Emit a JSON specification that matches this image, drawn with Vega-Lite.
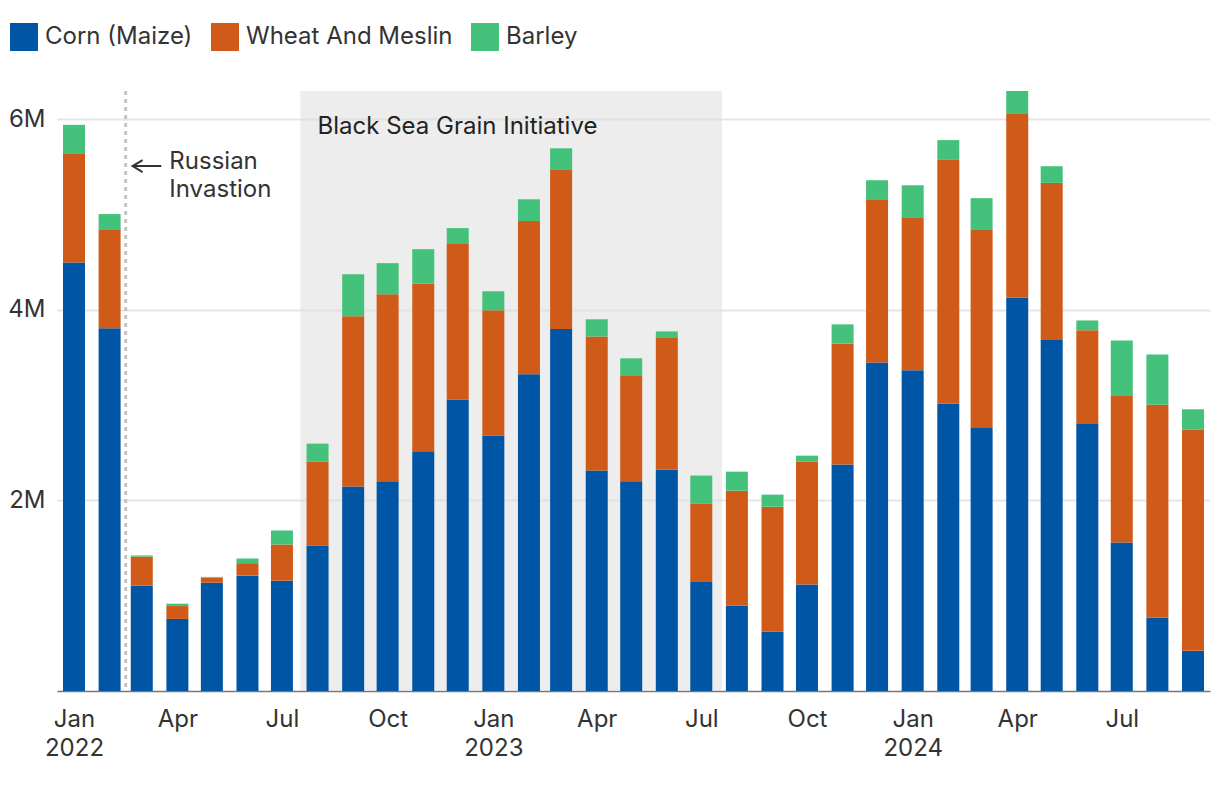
{
  "$schema": "https://vega.github.io/schema/vega-lite/v6.json",
  "width": 1153,
  "height": 600,
  "autosize": {"type": "none"},
  "padding": {"left": 57, "top": 91, "right": 10, "bottom": 95},
  "background": "white",
  "config": {
    "font": "Inter",
    "view": {"stroke": null},
    "scale": {"continuousPadding": 0},
    "axis": {"labelFont": "Inter", "labelFontSize": 24, "labelColor": "#333333"},
    "legend": {"labelFont": "Inter", "labelFontSize": 24, "labelColor": "#333333"}
  },
  "layer": [
    {
      "data": {"values": [{"start": "2022-07-17", "end": "2023-07-19"}]},
      "mark": {"type": "rect", "color": "#dcdcdc", "opacity": 0.5},
      "encoding": {
        "x": {"field": "start", "type": "temporal", "title": null, "scale": {"type": "utc", "padding": 0, "domain": [{"year": 2021, "month": 12, "date": 17, "hours": 5, "utc": true}, {"year": 2024, "month": 9, "date": 15, "hours": 19, "utc": true}]}},
        "x2": {"field": "end"}
      }
    },
    {
      "data": {"values": [{"date": "2022-02-15"}]},
      "mark": {"type": "rule", "color": "#c4c4c4", "strokeWidth": 3, "strokeDash": [4, 4]},
      "encoding": {
        "x": {"field": "date", "type": "temporal", "title": null}
      }
    },
    {
      "data": {"values": [
        {"date": "2022-01-01", "crop": "Corn (Maize)", "value": 4496000},
        {"date": "2022-01-01", "crop": "Wheat And Meslin", "value": 1144000},
        {"date": "2022-01-01", "crop": "Barley", "value": 299000},
        {"date": "2022-02-01", "crop": "Corn (Maize)", "value": 3805000},
        {"date": "2022-02-01", "crop": "Wheat And Meslin", "value": 1038000},
        {"date": "2022-02-01", "crop": "Barley", "value": 160000},
        {"date": "2022-03-01", "crop": "Corn (Maize)", "value": 1104000},
        {"date": "2022-03-01", "crop": "Wheat And Meslin", "value": 306000},
        {"date": "2022-03-01", "crop": "Barley", "value": 12000},
        {"date": "2022-04-01", "crop": "Corn (Maize)", "value": 756000},
        {"date": "2022-04-01", "crop": "Wheat And Meslin", "value": 135000},
        {"date": "2022-04-01", "crop": "Barley", "value": 25000},
        {"date": "2022-05-01", "crop": "Corn (Maize)", "value": 1136000},
        {"date": "2022-05-01", "crop": "Wheat And Meslin", "value": 53000},
        {"date": "2022-05-01", "crop": "Barley", "value": 8000},
        {"date": "2022-06-01", "crop": "Corn (Maize)", "value": 1210000},
        {"date": "2022-06-01", "crop": "Wheat And Meslin", "value": 131000},
        {"date": "2022-06-01", "crop": "Barley", "value": 49000},
        {"date": "2022-07-01", "crop": "Corn (Maize)", "value": 1157000},
        {"date": "2022-07-01", "crop": "Wheat And Meslin", "value": 380000},
        {"date": "2022-07-01", "crop": "Barley", "value": 147000},
        {"date": "2022-08-01", "crop": "Corn (Maize)", "value": 1525000},
        {"date": "2022-08-01", "crop": "Wheat And Meslin", "value": 882000},
        {"date": "2022-08-01", "crop": "Barley", "value": 188000},
        {"date": "2022-09-01", "crop": "Corn (Maize)", "value": 2146000},
        {"date": "2022-09-01", "crop": "Wheat And Meslin", "value": 1786000},
        {"date": "2022-09-01", "crop": "Barley", "value": 441000},
        {"date": "2022-10-01", "crop": "Corn (Maize)", "value": 2199000},
        {"date": "2022-10-01", "crop": "Wheat And Meslin", "value": 1962000},
        {"date": "2022-10-01", "crop": "Barley", "value": 327000},
        {"date": "2022-11-01", "crop": "Corn (Maize)", "value": 2514000},
        {"date": "2022-11-01", "crop": "Wheat And Meslin", "value": 1761000},
        {"date": "2022-11-01", "crop": "Barley", "value": 360000},
        {"date": "2022-12-01", "crop": "Corn (Maize)", "value": 3057000},
        {"date": "2022-12-01", "crop": "Wheat And Meslin", "value": 1639000},
        {"date": "2022-12-01", "crop": "Barley", "value": 160000},
        {"date": "2023-01-01", "crop": "Corn (Maize)", "value": 2681000},
        {"date": "2023-01-01", "crop": "Wheat And Meslin", "value": 1312000},
        {"date": "2023-01-01", "crop": "Barley", "value": 200000},
        {"date": "2023-02-01", "crop": "Corn (Maize)", "value": 3323000},
        {"date": "2023-02-01", "crop": "Wheat And Meslin", "value": 1606000},
        {"date": "2023-02-01", "crop": "Barley", "value": 229000},
        {"date": "2023-03-01", "crop": "Corn (Maize)", "value": 3797000},
        {"date": "2023-03-01", "crop": "Wheat And Meslin", "value": 1668000},
        {"date": "2023-03-01", "crop": "Barley", "value": 228000},
        {"date": "2023-04-01", "crop": "Corn (Maize)", "value": 2313000},
        {"date": "2023-04-01", "crop": "Wheat And Meslin", "value": 1406000},
        {"date": "2023-04-01", "crop": "Barley", "value": 180000},
        {"date": "2023-05-01", "crop": "Corn (Maize)", "value": 2199000},
        {"date": "2023-05-01", "crop": "Wheat And Meslin", "value": 1112000},
        {"date": "2023-05-01", "crop": "Barley", "value": 179000},
        {"date": "2023-06-01", "crop": "Corn (Maize)", "value": 2322000},
        {"date": "2023-06-01", "crop": "Wheat And Meslin", "value": 1389000},
        {"date": "2023-06-01", "crop": "Barley", "value": 61000},
        {"date": "2023-07-01", "crop": "Corn (Maize)", "value": 1144000},
        {"date": "2023-07-01", "crop": "Wheat And Meslin", "value": 822000},
        {"date": "2023-07-01", "crop": "Barley", "value": 294000},
        {"date": "2023-08-01", "crop": "Corn (Maize)", "value": 895000},
        {"date": "2023-08-01", "crop": "Wheat And Meslin", "value": 1206000},
        {"date": "2023-08-01", "crop": "Barley", "value": 200000},
        {"date": "2023-09-01", "crop": "Corn (Maize)", "value": 621000},
        {"date": "2023-09-01", "crop": "Wheat And Meslin", "value": 1312000},
        {"date": "2023-09-01", "crop": "Barley", "value": 127000},
        {"date": "2023-10-01", "crop": "Corn (Maize)", "value": 1116000},
        {"date": "2023-10-01", "crop": "Wheat And Meslin", "value": 1291000},
        {"date": "2023-10-01", "crop": "Barley", "value": 62000},
        {"date": "2023-11-01", "crop": "Corn (Maize)", "value": 2375000},
        {"date": "2023-11-01", "crop": "Wheat And Meslin", "value": 1271000},
        {"date": "2023-11-01", "crop": "Barley", "value": 200000},
        {"date": "2023-12-01", "crop": "Corn (Maize)", "value": 3445000},
        {"date": "2023-12-01", "crop": "Wheat And Meslin", "value": 1713000},
        {"date": "2023-12-01", "crop": "Barley", "value": 200000},
        {"date": "2024-01-01", "crop": "Corn (Maize)", "value": 3364000},
        {"date": "2024-01-01", "crop": "Wheat And Meslin", "value": 1598000},
        {"date": "2024-01-01", "crop": "Barley", "value": 343000},
        {"date": "2024-02-01", "crop": "Corn (Maize)", "value": 3016000},
        {"date": "2024-02-01", "crop": "Wheat And Meslin", "value": 2555000},
        {"date": "2024-02-01", "crop": "Barley", "value": 208000},
        {"date": "2024-03-01", "crop": "Corn (Maize)", "value": 2767000},
        {"date": "2024-03-01", "crop": "Wheat And Meslin", "value": 2068000},
        {"date": "2024-03-01", "crop": "Barley", "value": 335000},
        {"date": "2024-04-01", "crop": "Corn (Maize)", "value": 4128000},
        {"date": "2024-04-01", "crop": "Wheat And Meslin", "value": 1933000},
        {"date": "2024-04-01", "crop": "Barley", "value": 233000},
        {"date": "2024-05-01", "crop": "Corn (Maize)", "value": 3683000},
        {"date": "2024-05-01", "crop": "Wheat And Meslin", "value": 1647000},
        {"date": "2024-05-01", "crop": "Barley", "value": 175000},
        {"date": "2024-06-01", "crop": "Corn (Maize)", "value": 2808000},
        {"date": "2024-06-01", "crop": "Wheat And Meslin", "value": 977000},
        {"date": "2024-06-01", "crop": "Barley", "value": 102000},
        {"date": "2024-07-01", "crop": "Corn (Maize)", "value": 1557000},
        {"date": "2024-07-01", "crop": "Wheat And Meslin", "value": 1545000},
        {"date": "2024-07-01", "crop": "Barley", "value": 576000},
        {"date": "2024-08-01", "crop": "Corn (Maize)", "value": 768000},
        {"date": "2024-08-01", "crop": "Wheat And Meslin", "value": 2236000},
        {"date": "2024-08-01", "crop": "Barley", "value": 527000},
        {"date": "2024-09-01", "crop": "Corn (Maize)", "value": 421000},
        {"date": "2024-09-01", "crop": "Wheat And Meslin", "value": 2321000},
        {"date": "2024-09-01", "crop": "Barley", "value": 213000}
      ]},
      "transform": [
        {"calculate": "indexof(['Corn (Maize)', 'Wheat And Meslin', 'Barley'], datum.crop)", "as": "stackOrder"}
      ],
      "mark": {"type": "bar", "size": 22},
      "encoding": {
        "x": {
          "field": "date", "type": "temporal", "title": null,
          "axis": {
            "values": [
              {"year": 2022, "month": 1, "date": 1, "utc": true},
              {"year": 2022, "month": 4, "date": 1, "utc": true},
              {"year": 2022, "month": 7, "date": 1, "utc": true},
              {"year": 2022, "month": 10, "date": 1, "utc": true},
              {"year": 2023, "month": 1, "date": 1, "utc": true},
              {"year": 2023, "month": 4, "date": 1, "utc": true},
              {"year": 2023, "month": 7, "date": 1, "utc": true},
              {"year": 2023, "month": 10, "date": 1, "utc": true},
              {"year": 2024, "month": 1, "date": 1, "utc": true},
              {"year": 2024, "month": 4, "date": 1, "utc": true},
              {"year": 2024, "month": 7, "date": 1, "utc": true}
            ],
            "labelExpr": "utcmonth(datum.value) == 0 ? [utcFormat(datum.value, '%b'), utcFormat(datum.value, '%Y')] : utcFormat(datum.value, '%b')",
            "grid": false, "ticks": false, "domain": true, "domainColor": "#777777", "domainWidth": 1.5,
            "labelPadding": 16, "labelLineHeight": 29, "labelBaseline": "top", "labelAlign": "center",
            "labelFlush": false, "labelOverlap": false
          }
        },
        "y": {
          "field": "value", "type": "quantitative", "stack": "zero", "title": null,
          "scale": {"domain": [0, 6294000], "nice": false},
          "axis": {
            "values": [2000000, 4000000, 6000000],
            "labelExpr": "datum.value / 1000000 + 'M'",
            "grid": true, "gridColor": "#e6e6e6", "gridWidth": 2,
            "domain": false, "ticks": false, "labelPadding": 12
          }
        },
        "order": {"field": "stackOrder", "type": "quantitative", "sort": "ascending"},
        "color": {
          "field": "crop", "type": "nominal",
          "sort": ["Corn (Maize)", "Wheat And Meslin", "Barley"],
          "scale": {"domain": ["Corn (Maize)", "Wheat And Meslin", "Barley"], "range": ["#0055A5", "#D05A18", "#44C27B"]},
          "legend": {
            "title": null, "orient": "none", "legendX": -47, "legendY": -68, "direction": "horizontal",
            "symbolType": "square", "symbolSize": 784, "symbolStrokeWidth": 0, "symbolOpacity": 1,
            "labelOffset": 7, "columnPadding": 18, "padding": 0, "labelLimit": 0
          }
        }
      }
    },
    {
      "data": {"values": [{"date": "2022-08-01", "value": 5843000, "label": "Black Sea Grain Initiative"}]},
      "mark": {"type": "text", "align": "left", "baseline": "alphabetic", "fontSize": 24, "font": "Inter", "color": "#222222"},
      "encoding": {
        "x": {"field": "date", "type": "temporal", "title": null},
        "y": {"field": "value", "type": "quantitative", "title": null},
        "text": {"field": "label"}
      }
    },
    {
      "data": {"values": [{"date": "2022-03-25", "value": 5678000, "label": "Russian\nInvastion"}]},
      "mark": {"type": "text", "align": "left", "baseline": "top", "lineBreak": "\n", "lineHeight": 28, "fontSize": 24, "font": "Inter", "color": "#333333"},
      "encoding": {
        "x": {"field": "date", "type": "temporal", "title": null},
        "y": {"field": "value", "type": "quantitative", "title": null},
        "text": {"field": "label"}
      }
    },
    {
      "data": {"values": [{"start": "2022-02-21", "end": "2022-03-18", "value": 5507000}]},
      "mark": {"type": "rule", "color": "#333333", "strokeWidth": 2},
      "encoding": {
        "x": {"field": "start", "type": "temporal", "title": null},
        "x2": {"field": "end"},
        "y": {"field": "value", "type": "quantitative", "title": null}
      }
    },
    {
      "data": {"values": [{"date": "2022-02-21", "value": 5507000}]},
      "mark": {"type": "point", "shape": "M1,-0.6L0,0L1,0.6", "size": 400, "filled": false, "strokeWidth": 2, "color": "#333333", "opacity": 1},
      "encoding": {
        "x": {"field": "date", "type": "temporal", "title": null},
        "y": {"field": "value", "type": "quantitative", "title": null}
      }
    }
  ]
}
